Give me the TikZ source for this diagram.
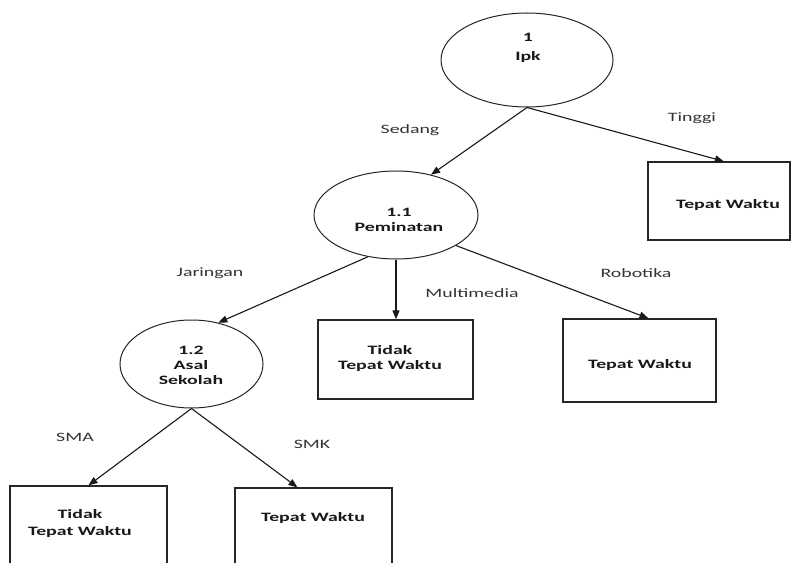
\documentclass[tikz,border=0pt]{standalone}
\usepackage{fontspec}
\setmainfont{Carlito}[FakeStretch=1.55]
\usetikzlibrary{shapes.geometric,arrows.meta}
\begin{document}
\begin{tikzpicture}[x=1bp,y=-1bp,
  ell/.style={draw=black!85,ellipse,line width=1bp,inner sep=0pt},
  box/.style={draw=black!85,rectangle,line width=1.3bp,inner sep=0pt},
  txt/.style={font=\fontsize{12.8bp}{15bp}\selectfont\bfseries,align=center,text=black!90,inner sep=0pt},
  lbl/.style={font=\fontsize{12.8bp}{15bp}\selectfont,text=black!80,inner sep=0pt},
  arr/.style={line width=1.1bp,draw=black!90,-{Triangle[length=9bp,width=7bp]}}]
\useasboundingbox (0,0) rectangle (793,563);
\fill[white] (0,0) rectangle (793,563);
\clip (0,0) rectangle (793,563);
% ellipses
\node[ell,minimum width=172bp,minimum height=94bp] (ipk) at (527,60) {};
\node[txt] (ipkt) at (528,47.5) {1\\[4bp]Ipk};
\node[ell,minimum width=164bp,minimum height=88bp] (pem) at (396,215) {};
\node[txt] (pemt) at (399,220) {1.1\\Peminatan};
\node[ell,minimum width=143bp,minimum height=88bp] (asal) at (191.5,364) {};
\node[txt] (asalt) at (191,365) {1.2\\Asal\\Sekolah};
% boxes
\node[box,minimum width=142bp,minimum height=78bp] (b1) at (719,201) {};
\node[txt] (b1t) at (728,205) {Tepat Waktu};
\node[box,minimum width=155bp,minimum height=79bp] (b2) at (395.5,359.5) {};
\node[txt] (b2t) at (390,358.5) {Tidak\\Tepat Waktu};
\node[box,minimum width=153bp,minimum height=83bp] (b3) at (639.5,360.5) {};
\node[txt] (b3t) at (640,365) {Tepat Waktu};
\node[box,minimum width=157bp,minimum height=94bp] (b4) at (88.5,533) {};
\node[txt] (b4t) at (80,523.5) {Tidak\\[2bp]Tepat Waktu};
\node[box,minimum width=157bp,minimum height=92bp] (b5) at (313.5,534) {};
\node[txt] (b5t) at (313,518) {Tepat Waktu};
% arrows
\draw[arr] (ipk.south) -- (pem.49);
\draw[arr] (ipk.south) -- (b1.83);
\draw[arr] (pem.236) -- (asal.57);
\draw[arr] (pem.south) -- (pem.south |- b2.north);
\draw[arr] (pem.-27) -- (b3.78);
\draw[arr] (asal.south) -- (b4.north);
\draw[arr] (asal.south) -- (b5.109);
% labels
\node[lbl] (lsed) at (410,130) {Sedang};
\node[lbl] (ltin) at (692,118) {Tinggi};
\node[lbl] (ljar) at (210,273) {Jaringan};
\node[lbl] (lmul) at (472,293) {Multimedia};
\node[lbl] (lrob) at (636,273) {Robotika};
\node[lbl] (lsma) at (75,437) {SMA};
\node[lbl] (lsmk) at (312,444) {SMK};
\end{tikzpicture}
\end{document}
